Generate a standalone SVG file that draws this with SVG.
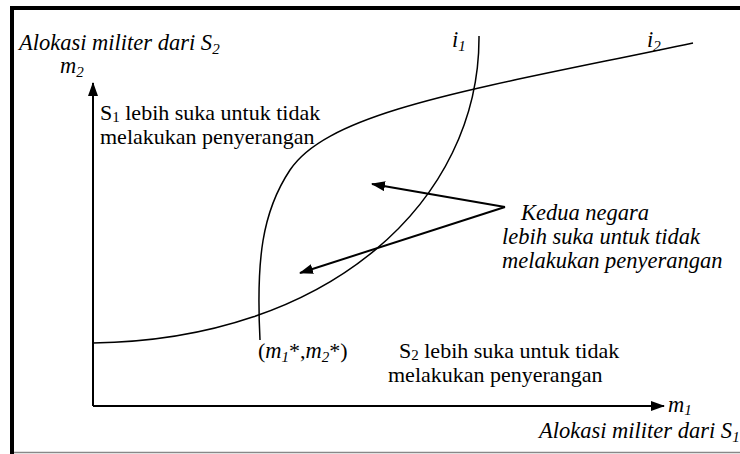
<svg xmlns="http://www.w3.org/2000/svg" width="740" height="454" viewBox="0 0 740 454">
<style>
text{font-family:'Liberation Serif','Times New Roman',serif;font-size:22px;fill:#000}
.i{font-style:italic;font-size:22.5px}
.s{font-size:15px}
.c{fill:none;stroke:#000;stroke-width:1.5}
.ax{fill:none;stroke:#000;stroke-width:2}
</style>
<defs>
<marker id="ah" markerWidth="14" markerHeight="10" refX="13" refY="5" orient="auto" markerUnits="userSpaceOnUse">
<path d="M0,0 L14,5 L0,10 Z" fill="#000"/>
</marker>
</defs>
<rect width="740" height="454" fill="#fff"/>
<g id="frame">
<rect x="10" y="6" width="730" height="4" fill="#000"/>
<rect x="10" y="6" width="4" height="448" fill="#000"/>
<line x1="14" y1="452.5" x2="740" y2="452.5" stroke="#888" stroke-width="1.5"/>
</g>
<g id="axes">
<line class="ax" x1="93" y1="406" x2="93" y2="83" marker-end="url(#ah)"/>
<line class="ax" x1="93" y1="406" x2="664" y2="406" marker-end="url(#ah)"/>
</g>
<g id="curves">
<path id="curve-i1" class="c" d="M479,36 C480,200 330,340 93,343"/>
<path id="curve-i2" class="c" d="M693,43 C480,88 330,110 290,170 C262,212 256,260 260,340"/>
</g>
<g id="connectors">
<line class="ax" x1="505" y1="207" x2="372" y2="184" marker-end="url(#ah)"/>
<line class="ax" x1="505" y1="207" x2="300" y2="273" marker-end="url(#ah)"/>
</g>
<g id="labels">
<text class="i" x="19" y="50">Alokasi militer dari S<tspan class="s" baseline-shift="-4">2</tspan></text>
<text class="i" x="60" y="73">m<tspan class="s" baseline-shift="-4">2</tspan></text>
<text x="100" y="120">S<tspan class="s" baseline-shift="-2">1</tspan> lebih suka untuk tidak</text>
<text x="100" y="144">melakukan penyerangan</text>
<text class="i" x="452" y="47">i<tspan class="s" baseline-shift="-4">1</tspan></text>
<text class="i" x="647" y="47">i<tspan class="s" baseline-shift="-4">2</tspan></text>
<text class="i" x="521" y="220">Kedua negara</text>
<text class="i" x="502" y="244">lebih suka untuk tidak</text>
<text class="i" x="502" y="268">melakukan penyerangan</text>
<text x="258" y="358">(<tspan class="i">m</tspan><tspan class="i s" baseline-shift="-4">1</tspan>*,<tspan class="i">m</tspan><tspan class="i s" baseline-shift="-4">2</tspan>*)</text>
<text x="399" y="358">S<tspan class="s" baseline-shift="-2">2</tspan> lebih suka untuk tidak</text>
<text x="388" y="382">melakukan penyerangan</text>
<text class="i" x="668" y="412">m<tspan class="s" baseline-shift="-3">1</tspan></text>
<text class="i" x="539" y="438">Alokasi militer dari S<tspan class="s" baseline-shift="-4">1</tspan></text>
</g>
</svg>
